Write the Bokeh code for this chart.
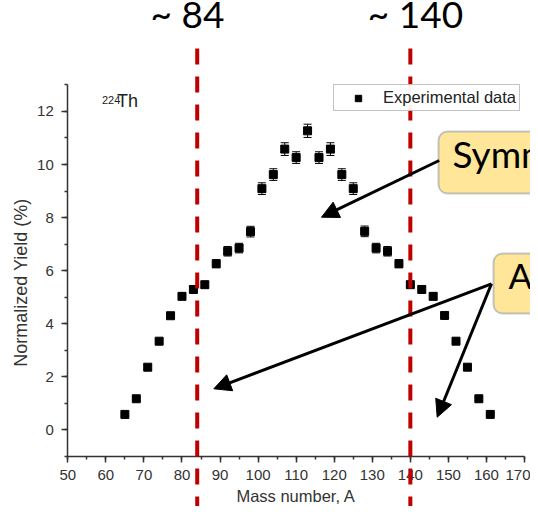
import math
from bokeh.plotting import figure
from bokeh.models import (ColumnDataSource, LinearAxis, SingleIntervalTicker, Whisker, TeeHead,
                          Label, Arrow, NormalHead, BoxAnnotation, Range1d)
from bokeh.embed import file_html
from bokeh.resources import INLINE

# ---- data -------------------------------------------------------------
mass = [65, 68, 71, 74, 77, 80, 83, 86, 89, 92, 95, 98, 101, 104, 107, 110, 113,
        116, 119, 122, 125, 128, 131, 134, 137, 140, 143, 146, 149, 152, 155, 158, 161]
yield_pct = [0.58, 1.17, 2.36, 3.34, 4.30, 5.03, 5.29, 5.47, 6.26, 6.73, 6.85, 7.47, 9.09,
             9.62, 10.58, 10.26, 11.27, 10.26, 10.58, 9.62, 9.09, 7.48, 6.85, 6.73, 6.26,
             5.47, 5.29, 5.03, 4.31, 3.34, 2.36, 1.17, 0.58]
yield_err = [0.05, 0.06, 0.08, 0.10, 0.10, 0.12, 0.12, 0.12, 0.15, 0.18, 0.18, 0.20, 0.22,
             0.22, 0.24, 0.22, 0.25, 0.22, 0.24, 0.22, 0.22, 0.20, 0.18, 0.18, 0.15,
             0.12, 0.12, 0.12, 0.10, 0.10, 0.08, 0.06, 0.05]
boundaries = [84, 140]
boundary_labels = ["~ 84", "~ 140"]
x_bounds = (50, 170)
y_bounds = (-1, 13)

W, H = 530, 506

# canvas-pixel -> data helpers (used for annotation placement only)
X0_PX, X_SCALE = 67.3, 3.806
Y0_PX, Y_SCALE = 429.3, 26.53
def X(px):
    return 50 + (px - X0_PX) / X_SCALE
def Y(py):
    return (Y0_PX - py) / Y_SCALE

src = ColumnDataSource(dict(
    mass=mass, y=yield_pct,
    lo=[v - e for v, e in zip(yield_pct, yield_err)],
    hi=[v + e for v, e in zip(yield_pct, yield_err)],
))

p = figure(width=W, height=H,
           x_range=Range1d(X(0), X(W)), y_range=Range1d(Y(H), Y(0)),
           x_axis_location=None, y_axis_location=None,
           toolbar_location=None, output_backend="svg",
           min_border=0, outline_line_color=None)
p.grid.visible = False

AX_COLOR = "#333333"
def style_axis(ax):
    ax.axis_line_color = AX_COLOR
    ax.axis_line_width = 1.5
    ax.major_tick_line_color = AX_COLOR
    ax.minor_tick_line_color = AX_COLOR
    ax.major_tick_line_width = 1.5
    ax.minor_tick_line_width = 1.5
    ax.major_tick_in = 0
    ax.major_tick_out = 6
    ax.minor_tick_in = 0
    ax.minor_tick_out = 3
    ax.major_label_text_font = "Liberation Sans"
    ax.major_label_text_font_size = "15px"
    ax.major_label_text_color = AX_COLOR
    ax.axis_label_text_font = "Liberation Sans"
    ax.axis_label_text_font_style = "normal"
    ax.axis_label_text_color = AX_COLOR

xaxis = LinearAxis(fixed_location=y_bounds[0], bounds=x_bounds,
                   ticker=SingleIntervalTicker(interval=10, num_minor_ticks=2),
                   axis_label="Mass number, A")
style_axis(xaxis)
xaxis.major_label_standoff = 8
xaxis.axis_label_standoff = 3
xaxis.axis_label_text_font_size = "16.5px"
p.add_layout(xaxis, "below")

yaxis = LinearAxis(fixed_location=x_bounds[0], bounds=y_bounds,
                   ticker=SingleIntervalTicker(interval=2, num_minor_ticks=2))
style_axis(yaxis)
yaxis.major_label_standoff = 8
p.add_layout(yaxis, "left")

# y-axis title (placed as a rotated label so it can sit where the reference has it)
p.add_layout(Label(x=X(20), y=Y(282), text="Normalized Yield (%)", angle=math.pi / 2,
                   text_align="center", text_baseline="middle",
                   text_font="Liberation Sans", text_font_size="18px", text_color=AX_COLOR))

# ---- data marks -------------------------------------------------------
p.add_layout(Whisker(source=src, base="mass", lower="lo", upper="hi", dimension="height",
                     line_color="black", line_width=1,
                     lower_head=TeeHead(size=8, line_color="black", line_width=1),
                     upper_head=TeeHead(size=8, line_color="black", line_width=1)))
p.scatter("mass", "y", source=src, marker="square", size=8, color="black",
          legend_label="Experimental data")

leg = p.legend[0]
leg.location = (333, H - 111)
leg.border_line_color = "#888888"
leg.border_line_width = 1
leg.padding = 3
leg.margin = 0
leg.spacing = 0
leg.glyph_width = 42
leg.glyph_height = 16
leg.label_height = 16
leg.label_standoff = 4
leg.label_text_font = "Liberation Sans"
leg.label_text_font_size = "16.5px"
leg.label_text_color = "#222222"

# nucleus label
p.add_layout(Label(x=X(101.5), y=Y(103), text="224", text_font="Liberation Sans",
                   text_font_size="11px", text_color="#222222"))
p.add_layout(Label(x=X(116.5), y=Y(110.7), text="Th", text_font="Liberation Sans",
                   text_font_size="18px", text_color="#222222"))

# ---- callout boxes ----------------------------------------------------
BOX_FILL, BOX_LINE = "#FFE699", "#2F528F"
p.add_layout(BoxAnnotation(left=X(438), right=X(720), top=Y(131), bottom=Y(193),
                           fill_color=BOX_FILL, fill_alpha=1, line_color=BOX_LINE,
                           line_width=2, border_radius=9))
p.add_layout(BoxAnnotation(left=X(493), right=X(760), top=Y(253), bottom=Y(313),
                           fill_color=BOX_FILL, fill_alpha=1, line_color=BOX_LINE,
                           line_width=2, border_radius=9))
p.add_layout(Label(x=X(452), y=Y(175), text="Symm", text_font="Lato",
                   text_font_size="37px", text_color="black"))
p.add_layout(Label(x=X(508), y=Y(295), text="As", text_font="Lato",
                   text_font_size="35px", text_color="black"))

# ---- boundary dashed lines -------------------------------------------
p.segment(x0=boundaries, y0=[Y(48)] * 2, x1=boundaries, y1=[Y(H + 20)] * 2,
          line_color="#C00000", line_width=4, line_dash="16 12", level="overlay")
for bx, txt in zip([X(187), X(415)], boundary_labels):
    p.add_layout(Label(x=bx, y=Y(35), text=txt, text_align="center", text_font="Lato",
                       text_font_size="37px", text_color="black"))

# ---- arrows -----------------------------------------------------------
def arrow(x0, y0, x1, y1):
    p.add_layout(Arrow(x_start=X(x0), y_start=Y(y0), x_end=X(x1), y_end=Y(y1),
                       line_color="black", line_width=3, level="overlay",
                       end=NormalHead(size=17, fill_color="black", line_color="black",
                                      line_width=1)))
arrow(438.7, 160, 321, 216.7)
arrow(491, 283.3, 213.3, 388.3)
arrow(491, 283.3, 436.7, 416.7)

open("out.html", "w").write(file_html(p, INLINE))
